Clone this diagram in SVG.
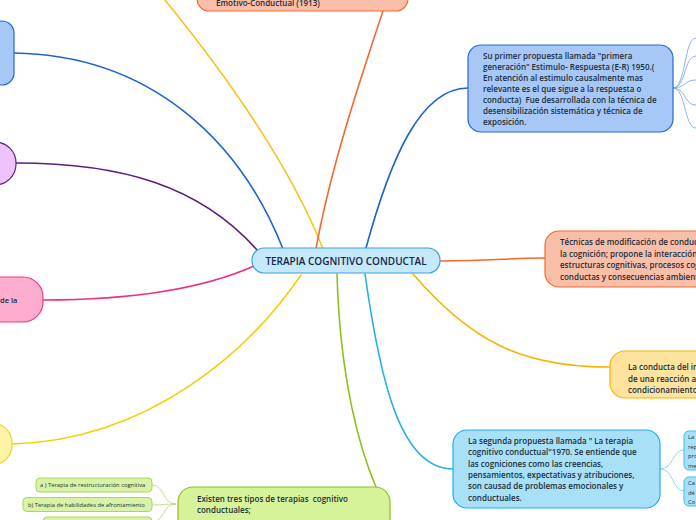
<svg xmlns="http://www.w3.org/2000/svg" width="696" height="520" viewBox="0 0 696 520">
<style>
text{font-family:"Open Sans","Noto Sans","Liberation Sans",sans-serif;fill:#1a2e3b;white-space:pre}
.t{font-size:8px;font-weight:600}
.s{font-size:5.8px}
.c{fill:none;stroke-width:1.6;stroke-linecap:round}
.thin{fill:none;stroke-width:0.9}
.blue{fill:#a7c8f7;stroke:#2468d8;stroke-width:1.2}
.salmon{fill:#f9bea8;stroke:#f26a2e;stroke-width:1.2}
.purple{fill:#eec3fb;stroke:#5e2479;stroke-width:1.2}
.pink{fill:#fcaccd;stroke:#ee3a86;stroke-width:1.2}
.yel{fill:#fff3a6;stroke:#f3d41e;stroke-width:1.2}
.gold{fill:#fde39e;stroke:#f6b400;stroke-width:1.2}
.cyan{fill:#a8e0f8;stroke:#20b0ea;stroke-width:1.2}
.green{fill:#d6f39a;stroke:#8cc21c;stroke-width:1.2}
.sgreen{fill:#d8f3a6;stroke:#a8d760;stroke-width:1}
.scyan{fill:#a8e0f8;stroke:#3dbdf0;stroke-width:1}
</style>
<g id="connectors">
<path class="c" stroke="#1e63d0" d="M14,53 C150,55 240,140 283,249"/>
<path class="c" stroke="#5c1f7a" d="M16,163 C120,163 200,185 258,251"/>
<path class="c" stroke="#ec2f84" d="M43,300 C130,300 200,290 254,266"/>
<path class="c" stroke="#f3d000" d="M12,444 C150,440 250,350 301,275"/>
<path class="c" stroke="#f8c21c" d="M165,0 C230,80 292,170 323,249"/>
<path class="c" stroke="#f26a2e" d="M383,11 C360,80 330,170 316,249"/>
<path class="c" stroke="#1e63d0" d="M366,248 C390,160 420,88 468,88"/>
<path class="c" stroke="#f26a2e" d="M440,261 C490,261 510,258 545,258"/>
<path class="c" stroke="#f6b400" d="M413,274 C470,340 520,367 610,367"/>
<path class="c" stroke="#20b0ea" d="M365,274 C380,380 400,469 453,469"/>
<path class="c" stroke="#8cc21c" d="M337,274 C340,380 360,450 376,487"/>
<g stroke="#7eaaf0">
<path class="thin" d="M673,88 C686,88 684,38 696,38"/>
<path class="thin" d="M673,88 C686,88 684,56 696,56"/>
<path class="thin" d="M673,88 C686,88 684,80 696,80"/>
<path class="thin" d="M673,88 C686,88 684,105 696,105"/>
<path class="thin" d="M673,88 C686,88 684,128 696,128"/>
</g>
<g stroke="#7fd3f3">
<path class="thin" d="M660,469 C674,469 672,450 684,450"/>
<path class="thin" d="M660,469 C674,469 672,491 684,491"/>
</g>
<g stroke="#b6dc7a">
<path class="thin" d="M176,504 C162,504 165,485 152,485"/>
<path class="thin" d="M176,504 C162,504 165,505 152,505"/>
<path class="thin" d="M176,504 C162,504 165,522 152,522"/>
</g>
</g>
<g id="center">
<rect x="252" y="248" width="188" height="25" rx="12" fill="#c5e8fb" stroke="#3aa0e0" stroke-width="1.2"/>
<text x="346" y="265" text-anchor="middle" font-size="10" font-weight="600" style="fill:#15264a">TERAPIA COGNITIVO CONDUCTAL</text>
</g>
<g id="top-node">
<rect x="197" y="-25" width="211" height="36" rx="12" class="salmon"/>
<text x="216" y="5.5" class="t">Emotivo-Conductual (1913)</text>
</g>
<g id="left-blue">
<rect x="-30" y="21" width="44" height="64" rx="12" class="blue"/>
</g>
<g id="left-purple">
<rect x="-30" y="142" width="46" height="43" rx="21" class="purple"/>
</g>
<g id="left-pink">
<rect x="-30" y="277" width="73" height="45" rx="20" class="pink"/>
<text x="0" y="303" font-size="7.5" font-weight="600">de la</text>
</g>
<g id="left-yellow">
<rect x="-30" y="423" width="42" height="42" rx="20" class="yel"/>
</g>
<g id="blue-right">
<rect x="468" y="45" width="205" height="87" rx="13" class="blue"/>
<text class="t" x="483" y="58.5">Su primer propuesta llamada "primera</text>
<text class="t" x="483" y="69.5">generación" Estimulo- Respuesta (E-R) 1950.(</text>
<text class="t" x="483" y="80.5">En atención al estimulo causalmente mas</text>
<text class="t" x="483" y="91.5">relevante es el que sigue a la respuesta o</text>
<text class="t" x="483" y="102.5">conducta)  Fue desarrollada con la técnica de</text>
<text class="t" x="483" y="113.5">desensibilización sistemática y técnica de</text>
<text class="t" x="483" y="124.5">exposición.</text>
</g>
<g id="salmon-right">
<rect x="545" y="231" width="180" height="56" rx="14" class="salmon"/>
<text class="t" x="560" y="245">Técnicas de modificación de conduct</text>
<text class="t" x="560" y="256.5">la cognición; propone la interacción</text>
<text class="t" x="560" y="268">estructuras cognitivas, procesos cog</text>
<text class="t" x="560" y="279.5">conductas y consecuencias ambient</text>
</g>
<g id="gold-right">
<rect x="610" y="351" width="110" height="47" rx="15" class="gold"/>
<text class="t" x="628" y="370">La conducta del in</text>
<text class="t" x="628" y="381.5">de una reacción a</text>
<text class="t" x="628" y="393">condicionamiento</text>
</g>
<g id="cyan-node">
<rect x="453" y="430" width="207" height="78" rx="14" class="cyan"/>
<text class="t" x="468" y="444">La segunda propuesta llamada " La terapia</text>
<text class="t" x="468" y="455.3">cognitivo conductual"1970. Se entiende que</text>
<text class="t" x="468" y="466.6">las cogniciones como las creencias,</text>
<text class="t" x="468" y="477.9">pensamientos, expectativas y atribuciones,</text>
<text class="t" x="468" y="489.2">son causad de problemas emocionales y</text>
<text class="t" x="468" y="500.5">conductuales.</text>
</g>
<g id="cyan-small-1">
<rect x="684" y="431" width="30" height="39" rx="5" class="scyan"/>
<text class="s" x="688" y="439">La</text>
<text class="s" x="688" y="448.5">rep</text>
<text class="s" x="688" y="458">pro</text>
<text class="s" x="688" y="467.5">me</text>
</g>
<g id="cyan-small-2">
<rect x="684" y="477" width="30" height="29" rx="5" class="scyan"/>
<text class="s" x="688" y="485">Ca</text>
<text class="s" x="688" y="494.5">dé</text>
<text class="s" x="688" y="504">Co</text>
</g>
<g id="green-node">
<rect x="178" y="487" width="212" height="50" rx="15" class="green"/>
<text class="t" x="197" y="502">Existen tres tipos de terapias  cognitivo</text>
<text class="t" x="197" y="513">conductuales;</text>
</g>
<g id="green-small-1">
<rect x="36" y="478" width="116" height="14" rx="4" class="sgreen"/>
<text class="s" x="40" y="487.2">a ) Terapia de restructuración cognitiva</text>
</g>
<g id="green-small-2">
<rect x="23" y="497.5" width="129" height="14" rx="4" class="sgreen"/>
<text class="s" x="28" y="506.7">b) Terapia de habilidades de afrontamiento</text>
</g>
<g id="green-small-3">
<rect x="43" y="517" width="109" height="14" rx="4" class="sgreen"/>
</g>
</svg>
